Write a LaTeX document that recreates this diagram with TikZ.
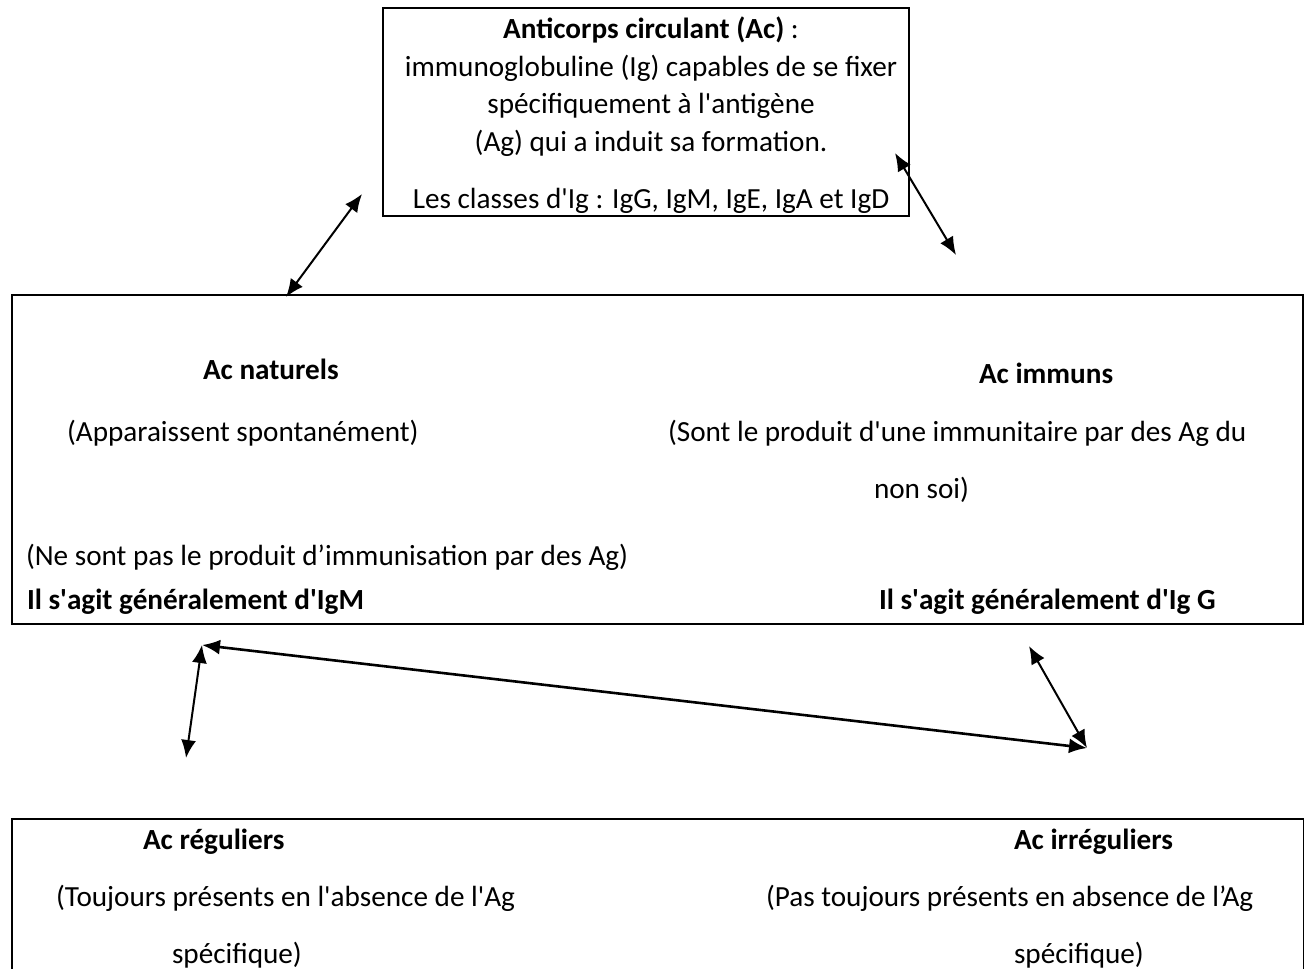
\documentclass[tikz,border=0pt]{standalone}
\usepackage{fontspec}
\setmainfont{Carlito}
\usetikzlibrary{shapes, arrows.meta, positioning}
\tikzstyle{box} = [draw, rectangle, inner sep=0pt]
\tikzstyle{txt} = [anchor=west, inner sep=0pt]
\newcommand{\ap}{\textquotesingle}

\begin{document}
\begin{tikzpicture}[x=0.5pt, y=-0.5pt, >={Latex[length=9pt,width=7.5pt]}, line width=1pt,
  every node/.style={font=\fontsize{14.6}{17.75}\selectfont}]
  \useasboundingbox (0,0) rectangle (1304,968);
  \clip (0,0) rectangle (1304,968);
  % boxes
  \node[box, minimum width=263pt, minimum height=104pt] (ac) at (646,112) {};
  \node[align=center, inner sep=0pt] (actxt) at (651,115)
    {\textbf{Anticorps circulant (Ac)} :\\[1pt]
     immunoglobuline (Ig) capables de se fixer\\[1pt]
     spécifiquement à l\ap antigène\\[1pt]
     (Ag) qui a induit sa formation.\\[10.75pt]
     Les classes d\ap Ig : IgG, IgM, IgE, IgA et IgD};
  \node[box, minimum width=645.5pt, minimum height=164.5pt] (types) at (657.5,459.5) {};
  \node[box, minimum width=646pt, minimum height=100pt] (pres) at (657.5,919) {};
  % Ac naturels / Ac immuns
  \node[txt] (nat) at (202,369) {\textbf{Ac naturels}};
  \node[txt] (imm) at (978,373) {\textbf{Ac immuns}};
  \node[txt] (appar) at (66,433) {(Apparaissent spontanément)};
  \node[txt] (sont) at (667,433) {(Sont le produit d\ap une immunitaire par des Ag du};
  \node[txt] (nonsoi) at (873,490) {non soi)};
  \node[txt] (nesont) at (25,557) {(Ne sont pas le produit d’immunisation par des Ag)};
  \node[txt] (igm) at (26,602) {\textbf{Il s\ap agit généralement d\ap IgM}};
  \node[txt] (igg) at (878,602) {\textbf{Il s\ap agit généralement d\ap Ig G}};
  % Ac reguliers / irreguliers
  \node[txt] (reg) at (142,842) {\textbf{Ac réguliers}};
  \node[txt] (irr) at (1013,842) {\textbf{Ac irréguliers}};
  \node[txt] (touj) at (55,898) {(Toujours présents en l\ap absence de l\ap Ag};
  \node[txt] (pas) at (765,898) {(Pas toujours présents en absence de l’Ag};
  \node[txt] (spec1) at (171,955) {spécifique)};
  \node[txt] (spec2) at (1013,955) {spécifique)};
  % arrow ends
  \coordinate (a1) at (286,297);
  \coordinate (a2) at (362,194);
  \coordinate (b1) at (895,153);
  \coordinate (b2) at (956,255);
  \coordinate (c1) at (202,645);
  \coordinate (c2) at (186,758);
  \coordinate (d1) at (1029,646);
  \coordinate (d2) at (1087,748);
  \draw[<->] (a1) -- (a2);
  \draw[<->] (b1) -- (b2);
  \draw[<->] (c1) -- (c2);
  \draw[<->, line width=1.3pt] (c1) -- (d2);
  \draw[<->] (d1) -- (d2);
\end{tikzpicture}
\end{document}
